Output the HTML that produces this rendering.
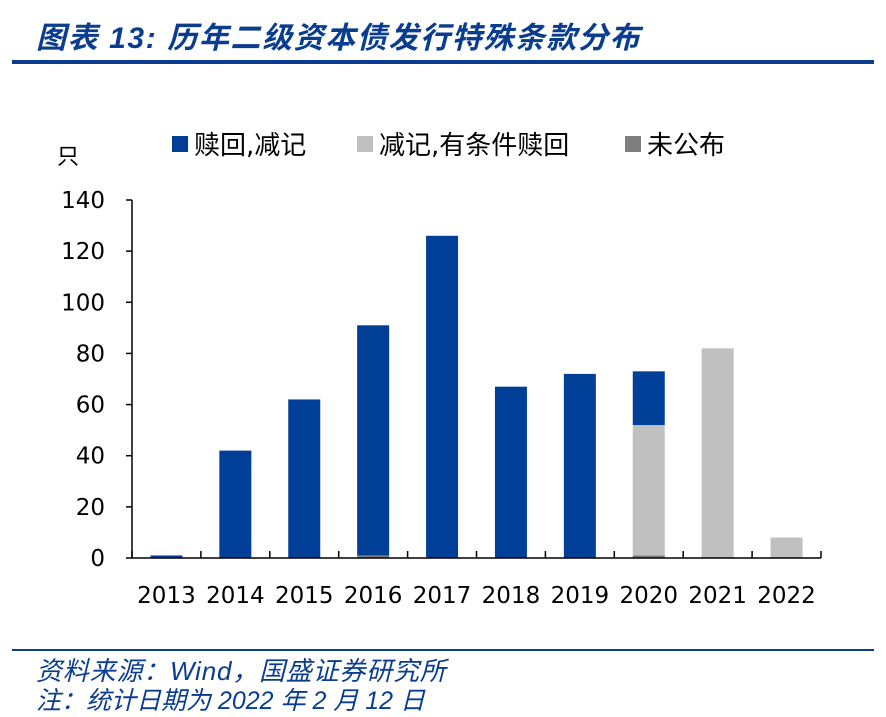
<!DOCTYPE html>
<html><head><meta charset="utf-8"><style>
body{margin:0;width:886px;height:715px;background:#fff;overflow:hidden;font-family:"Liberation Sans","Noto Sans CJK SC",sans-serif}
.t{position:absolute;color:#0a3d8f;font-style:italic;font-weight:bold;white-space:nowrap}
</style></head><body>
<div class="t" style="left:36px;top:13px;font-size:30px;letter-spacing:1.6px">图表 13:  历年二级资本债发行特殊条款分布</div>
<div style="position:absolute;left:12px;top:60px;width:862px;height:4px;background:#0a3d8f"></div>
<div style="position:absolute;left:12px;top:649px;width:862px;height:2px;background:#0a3d8f"></div>
<div class="t" style="left:36px;top:651px;font-size:26px;font-weight:normal;letter-spacing:0.8px">资料来源：Wind，国盛证券研究所</div>
<div class="t" style="left:36px;top:681px;font-size:25px;font-weight:normal">注：统计日期为 2022 年 2 月 12 日</div>
<svg id="chart" width="886" height="715" style="position:absolute;left:0;top:0" font-family="DejaVu Sans, Noto Sans CJK SC, sans-serif"></svg>
<script>
const years=["2013","2014","2015","2016","2017","2018","2019","2020","2021","2022"];
const redeemWritedown=[1,42,62,90,126,67,72,21,0,0];
const writedownConditional=[0,0,0,0,0,0,0,51,82,8];
const undisclosed=[0,0,0,1,0,0,0,1,0,0];
const yTicks=[0,20,40,60,80,100,120,140];
const svg=document.getElementById('chart');
const NS='http://www.w3.org/2000/svg';
const x0=132,x1=821,y0=558,yTop=200,yMax=140;
const bw=(x1-x0)/years.length;
const y=v=>y0-(v/yMax)*(y0-yTop);
function mk(t,a,p){const e=document.createElementNS(NS,t);for(const k in a)e.setAttribute(k,a[k]);(p||svg).appendChild(e);return e;}
let ax=mk('line',{x1:x0,y1:yTop,x2:x0,y2:y0,stroke:'#000','stroke-width':1.5});


yTicks.forEach(v=>{
  const tl=mk('line',{x1:x0-6,y1:y(v),x2:x0,y2:y(v),stroke:'#000','stroke-width':1.5});
  
  
  const tx=mk('text',{x:x0-27,y:y(v)+8,'text-anchor':'end','font-size':23,fill:'#000'});
  tx.textContent=v;
  
  
});
const ylab=mk('text',{x:57,y:164,'font-size':22,fill:'#000'});ylab.textContent='只';


years.forEach((yr,i)=>{
  const cx=x0+bw*(i+0.5),w=32;
  let base=0;
  [[undisclosed[i],'#7f7f7f'],[writedownConditional[i],'#c0c0c0'],[redeemWritedown[i],'#003f98']].forEach(([v,c],k)=>{
    if(v<=0)return;
    const r=mk('rect',{x:cx-w/2,y:y(base+v),width:w,height:y(base)-y(base+v),fill:c});
    
    
    base+=v;
  });
  const t=mk('text',{x:cx,y:603,'text-anchor':'middle','font-size':23,fill:'#000'});t.textContent=yr;
  
  
});
for(let i=0;i<=years.length;i++){
  const tl=mk('line',{x1:x0+bw*i,y1:y0-7,x2:x0+bw*i,y2:y0,stroke:'#000','stroke-width':1.5});
  
  
}
const xa=mk('line',{x1:x0,y1:y0,x2:x1,y2:y0,stroke:'#000','stroke-width':1.5});


[['赎回,减记','#003f98',172],['减记,有条件赎回','#c0c0c0',357],['未公布','#7f7f7f',625]].forEach(([l,c,lx])=>{
  const r=mk('rect',{x:lx,y:136,width:16,height:16,fill:c});
  
  
  const t=mk('text',{x:lx+22,y:154,'font-size':26,fill:'#000'});t.textContent=l;
  
  
});
</script>
</body></html>
